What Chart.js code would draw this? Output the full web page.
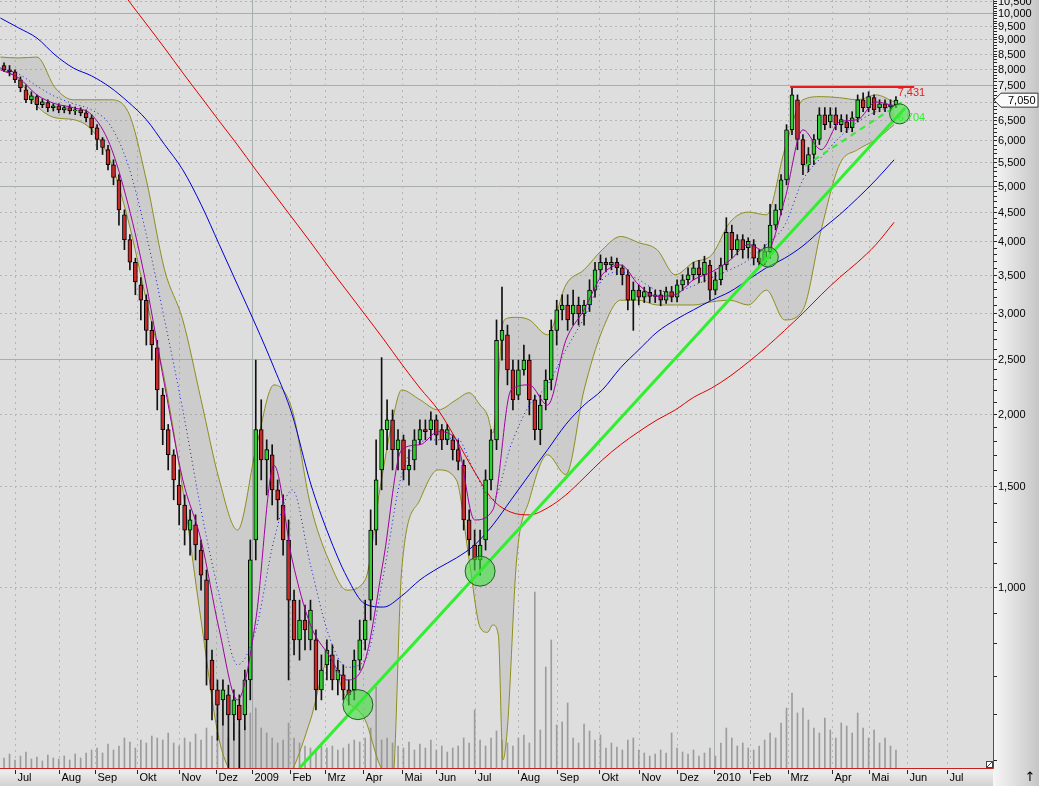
<!DOCTYPE html>
<html lang="de">
<head>
<meta charset="utf-8">
<title>Kursverlauf Jul 2008 - Mai 2010</title>
<script src="https://cdn.jsdelivr.net/npm/chart.js@4.4.1/dist/chart.umd.min.js"></script>
<style>
  html, body { margin: 0; padding: 0; background: #fff; }
  #wrap { width: 1039px; height: 786px; position: relative; }
</style>
</head>
<body>
<div id="wrap"><canvas id="priceChart"></canvas></div>
<script>
// Kerzen: jede 3. Handelssitzung, x = Handelstage ab 1. Juli 2008
const firstCandleDay = -6;
const candleStep = 3;
const opens = [
  8100,7960,7900,7650,7350,7060,7150,6920,6980,6840,6890,6780,6840,6750,6780,6700,6570,
  6310,6020,5780,5440,5120,4450,4030,3680,3360,3160,2800,
  2610,2160,1880,1700,1505,1390,1257,1283,1160,1029,746,662,636,649,599,623,599,
  689,1208,1880,1665,1700,1477,1390,1208,949,
  809,876,809,809,662,732,762,689,703,662,662,746,809,
  949,1257,1600,1880,1955,1735,1805,1600,1665,1805,1880,1880,1955,1880,1805,1805,1735,
  1630,1309,1184,1115,1208,1537,1805,2690,2750,2390,2160,2390,2485,2120,1880,2120,2295,2800,
  3040,3100,2990,3100,2990,3100,3290,3570,3680,3640,3680,3600,3500,3160,
  3290,3200,3260,3210,3230,3160,3270,3200,3360,3430,3500,3600,3500,3640,3290,3430,
  3640,4150,3870,4030,3900,3950,3740,3680,3840,4270,4540,5120,
  6260,7060,6020,5440,5670,6020,6650,6460,6650,6390,6460,6310,6570,7060,6840,7120,6840,6950,6860,6920
];
const highs = [
  8190,8100,7960,7740,7500,7290,7200,7090,7060,6950,6950,6890,6920,6860,6840,6780,6650,
  6390,6070,5880,5550,5230,4540,4110,3740,3460,3230,2900,
  2690,2220,1920,1735,1600,1447,1363,1336,1208,1071,777,689,689,675,662,649,717,
  1208,2485,2120,1805,1770,1537,1447,1309,988,
  949,930,949,842,762,809,793,746,732,689,777,876,949,
  1363,1805,2510,2120,2035,1880,1840,1735,1880,1955,1955,2020,1995,1920,1920,1840,1805,
  1665,1363,1257,1257,1600,1880,2920,3330,2860,2485,2485,2640,2540,2160,2160,2390,2920,3160,
  3230,3230,3290,3200,3160,3430,3680,3790,3740,3760,3740,3640,3570,3400,
  3360,3330,3330,3290,3290,3330,3340,3430,3500,3600,3680,3710,3770,3710,3540,3740,
  4400,4270,4110,4110,4060,4030,3870,3950,4640,4640,5230,6390,
  7410,7200,6140,5830,6140,6840,6840,6840,6840,6650,6650,6730,7200,7260,7290,7200,7060,7060,7060,7150
];
const lows = [
  7900,7770,7560,7290,6980,6950,6780,6840,6730,6750,6700,6700,6670,6650,6620,6460,6140,
  5780,5670,5330,5020,4270,3870,3570,3230,2920,2640,2485,
  2035,1770,1600,1419,1283,1184,1137,1115,988,675,587,541,575,470,541,470,564,
  636,1115,1537,1447,1390,1309,1137,689,762,
  746,777,777,611,636,689,662,649,636,623,636,717,777,
  876,1184,1477,1735,1600,1600,1537,1505,1600,1770,1805,1805,1770,1735,1770,1665,1600,
  1257,1137,1071,1049,1160,1477,1735,2485,2250,2035,2120,2340,1995,1805,1770,2035,2205,2640,
  2920,2800,2860,2860,2860,3020,3200,3430,3540,3570,3500,3360,3040,2800,
  3100,3130,3130,3130,3090,3120,3140,3140,3290,3360,3430,3390,3400,3160,3230,3360,
  3570,3740,3790,3740,3740,3640,3600,3640,3740,4190,4450,5020,
  6140,5780,5230,5290,5440,5900,6260,6310,6260,6210,6190,6210,6460,6730,6730,6650,6730,6730,6780,6840
];
const closes = [
  7960,7900,7650,7410,7060,7170,6920,7000,6840,6890,6780,6840,6750,6780,6700,6570,6310,
  6020,5830,5440,5170,4540,4030,3680,3400,3160,2800,2640,
  2205,1880,1700,1537,1390,1257,1309,1184,1049,809,662,623,662,599,636,587,689,
  1115,1880,1665,1735,1477,1419,1208,949,809,
  876,842,912,662,717,777,689,717,662,649,746,809,876,
  1257,1537,1880,1955,1735,1805,1600,1630,1805,1880,1865,1955,1840,1805,1880,1735,1655,
  1309,1208,1115,1184,1537,1805,2690,2800,2390,2120,2390,2485,2120,1880,2075,2295,2800,3040,
  3100,2920,3100,2990,3100,3290,3570,3680,3640,3680,3600,3500,3160,3290,
  3200,3270,3210,3230,3160,3270,3200,3360,3430,3500,3600,3500,3680,3290,3430,3640,
  4150,3870,4030,3870,4000,3740,3680,3840,4270,4540,5120,6260,
  7200,6020,5440,5670,6020,6650,6390,6650,6390,6520,6310,6570,7060,6840,7150,6780,6950,6840,6920,7050
];
// Umsatz in Tsd. Stueck
const volume = [
  50,70,40,60,80,45,55,35,65,50,45,60,40,70,50,75,90,
  100,75,120,90,110,150,130,100,140,125,160,
  150,140,175,125,110,150,130,170,140,200,160,175,440,150,225,190,210,
  275,300,200,175,150,125,140,225,150,
  125,110,100,90,125,100,110,90,100,120,140,130,150,
  200,405,140,150,125,110,100,130,90,120,100,140,90,110,80,100,110,
  150,125,290,140,110,150,185,140,125,110,150,165,125,880,190,505,640,215,
  230,325,150,125,220,185,140,165,100,125,105,90,140,150,
  90,75,60,70,90,75,175,100,80,70,90,60,75,100,60,125,
  200,150,110,125,100,90,110,140,175,150,225,300,
  375,275,300,240,200,175,250,190,150,225,210,175,275,200,150,190,125,150,110,90
];

const firstLineDay = -8;
const lineStep = 10;
const sma200 = [
  null,null,null,null,null,null,11650,10535,9570,8690,7865,7140,6480,5890,5330,4840,4395,3990,3610,3280,
  2980,2705,2446,2222,2035,1805,1587,1419,1350,1336,1374,1447,1550,1665,1770,1865,1955,2035,2140,2222,
  2330,2465,2620,2800,3000,3230,3460,3680,3950,4320
];
const sma100 = [
  9800,9420,9045,8450,8020,7770,7430,7000,6520,5900,5330,4640,3950,3360,2860,2410,1995,1518,1232,1041,
  934,923,965,1029,1079,1124,1184,1283,1419,1570,1735,1920,2075,2205,2410,2590,2780,2920,3040,3160,
  3270,3430,3600,3740,3930,4190,4450,4760,5120,5550
];
const sma20 = [
  8020,7830,7460,7150,6950,6780,6390,5440,4110,2920,2035,1363,968,732,842,1208,1477,1093,825,725,
  746,1049,1570,1790,1805,1820,1587,1419,1770,2075,2250,2590,2945,3430,3540,3430,3290,3270,3350,3460,
  3570,3710,3950,4270,5120,5600,6070,6460,6730,6890
];
const sma10 = [
  7960,7710,7200,6950,6840,6650,5900,4640,3360,2250,1537,1208,842,636,876,1630,1115,859,762,689,
  746,1115,1735,1770,1865,1805,1309,1363,2205,2250,2075,2690,3040,3500,3640,3360,3210,3230,3430,3540,
  3710,3950,3840,4730,6260,5780,6460,6520,7000,6890
];

const bandDays = [
  -8,2,12,22,32,42,52,62,72,82,92,102,112,122,132,142,152,162,172,182,
  192,200,207,212,222,232,242,
  249,255,259,262,265,267.5,270,275,282,
  292,302,312,322,332,342,352,362,372,382,392,402,412,422,432,442,452,462,472,482
];
const bbUpper = [
  8380,8350,8380,7410,7060,7060,7060,6730,5120,3570,2920,2120,1537,1257,1735,2250,2035,1390,1115,988,
  1029,1477,1955,2205,2120,2035,2120,
  2180,2075,1995,1855,2295,2880,2940,2950,2920,
  2750,3360,3570,3870,4080,3980,3870,3500,3680,3790,4320,4500,4450,5780,7060,7150,7120,7060,7200,7000
];
const bbLower = [
  8020,7650,6890,6570,6520,6260,5550,4360,3160,2295,1477,876,541,459,440,440,480,587,746,636,
  587,490,460,1071,1419,1600,1537,
  1115,851,834,859,825,500,570,1115,1419,
  1700,1570,2205,2800,3160,3160,3100,3100,3100,3140,3160,3100,3290,2920,3040,4190,5440,5780,6020,6390
];

// Achsen
const xMin = -8.22, xMax = 536.2;
const priceMin = 484, priceMax = 10535;
const monthStarts = [0,24,44,67,90,110,130,151,170,191,212,231,252,276,297,320,342,363,383,403,424,448,468,489,511];
const monthLabels = ['Jul','Aug','Sep','Okt','Nov','Dez','2009','Feb','Mrz','Apr','Mai','Jun',
                     'Jul','Aug','Sep','Okt','Nov','Dez','2010','Feb','Mrz','Apr','Mai','Jun','Jul'];
const priceTicks = [10500,10000,9500,9000,8500,8000,7500,7000,6500,6000,5500,5000,4500,4000,3500,3000,2500,2000,1500,1000];
const solidLevels = [10000,7500,5000,2500];
const lastPrice = 7050;

// Zeichenwerkzeuge
const resistanceDays = [425, 493];
const resistanceLevel = 7431;
const trendDays = [156, 488];
const trendValues = [484, 6832];
const channelDays = [433, 488];
const channelValues = [5413, 7053];
const touchDays = [188, 255, 413, 485];
const touchValues = [624, 1066, 3756, 6672];
const trendLabelValue = 6704;

const candleDays = opens.map((_, i) => firstCandleDay + i * candleStep);
const lineDays = sma100.map((_, i) => firstLineDay + i * lineStep);
const pts = arr => arr.map((v, i) => ({ x: lineDays[i], y: v }));
const bandPts = arr => arr.map((v, i) => ({ x: bandDays[i], y: v }));
const fmt = v => v.toLocaleString('en-US');
const FONT = '11px "Liberation Sans", Arial, sans-serif';

const frame = {
  id: 'frame',
  beforeDraw(chart) {
    const { ctx, chartArea: a, width, height } = chart;
    ctx.save();
    ctx.fillStyle = '#dedede';
    ctx.fillRect(a.left, a.top, a.right - a.left, a.bottom - a.top);
    let g = ctx.createLinearGradient(a.right, 0, width, 0);
    g.addColorStop(0, '#f6f6f6');
    g.addColorStop(1, '#c6c6c6');
    ctx.fillStyle = g;
    ctx.fillRect(a.right, 0, width - a.right, height);
    g = ctx.createLinearGradient(0, a.bottom, 0, height);
    g.addColorStop(0, '#f2f2f2');
    g.addColorStop(1, '#d2d2d2');
    ctx.fillStyle = g;
    ctx.fillRect(0, a.bottom, a.right, height - a.bottom);
    ctx.restore();
  },
  beforeDatasetsDraw(chart) {
    const { ctx, chartArea: a, scales } = chart;
    const xs = scales.x, ys = scales.y;
    ctx.save();
    ctx.beginPath();
    ctx.rect(a.left, a.top, a.right - a.left, a.bottom - a.top);
    ctx.clip();
    ctx.lineWidth = 1;
    priceTicks.forEach(v => {
      const y = Math.round(ys.getPixelForValue(v)) + 0.5;
      const solid = solidLevels.includes(v);
      ctx.setLineDash(solid ? [] : [2, 3]);
      ctx.strokeStyle = solid ? '#a9afaf' : '#b4b4b4';
      ctx.beginPath(); ctx.moveTo(a.left, y); ctx.lineTo(a.right, y); ctx.stroke();
    });
    monthStarts.forEach((d, i) => {
      const x = Math.round(xs.getPixelForValue(d)) + 0.5;
      const solid = /^\d{4}$/.test(monthLabels[i]);
      ctx.setLineDash(solid ? [] : [2, 4]);
      ctx.strokeStyle = solid ? '#a9afaf' : '#b4b4b4';
      ctx.beginPath(); ctx.moveTo(x, a.top); ctx.lineTo(x, a.bottom); ctx.stroke();
    });
    ctx.restore();
  },
  afterDatasetsDraw(chart) {
    const { ctx, scales } = chart;
    const xs = scales.x, ys = scales.y;
    const xr = xs.getPixelForValue(resistanceDays[1]) + 11;
    ctx.save();
    ctx.font = FONT;
    ctx.textAlign = 'right';
    ctx.textBaseline = 'middle';
    ctx.fillStyle = '#e81c1c';
    ctx.fillText(fmt(resistanceLevel), xr, ys.getPixelForValue(resistanceLevel) + 6);
    ctx.fillStyle = '#2ef02e';
    ctx.fillText(fmt(trendLabelValue), xr, ys.getPixelForValue(trendLabelValue) + 5);
    ctx.restore();
  },
  afterDraw(chart) {
    const { ctx, chartArea: a, scales, width, height } = chart;
    const xs = scales.x, ys = scales.y;
    ctx.save();
    // Rahmen
    ctx.strokeStyle = '#c42020';
    ctx.lineWidth = 1;
    ctx.beginPath();
    ctx.moveTo(a.right + 0.5, 0); ctx.lineTo(a.right + 0.5, a.bottom + 0.5);
    ctx.lineTo(0, a.bottom + 0.5);
    ctx.stroke();
    // kleine Striche an der Kursachse
    ctx.strokeStyle = '#222';
    for (let v = 500; v <= 10500; v += 100) {
      const y = Math.round(ys.getPixelForValue(v)) + 0.5;
      ctx.beginPath(); ctx.moveTo(a.right + 1, y); ctx.lineTo(a.right + 4, y); ctx.stroke();
    }
    // Kursbeschriftung
    const yLast = ys.getPixelForValue(lastPrice);
    ctx.font = FONT;
    ctx.fillStyle = '#000';
    ctx.textAlign = 'left';
    ctx.textBaseline = 'middle';
    priceTicks.forEach(v => {
      const y = ys.getPixelForValue(v);
      if (Math.abs(y - yLast) < 11) return;
      ctx.fillText(fmt(v), a.right + 5, y + 1);
    });
    // letzter Kurs
    ctx.beginPath();
    ctx.moveTo(a.right + 1, yLast);
    ctx.lineTo(a.right + 8, yLast - 7);
    ctx.lineTo(width - 1, yLast - 7);
    ctx.lineTo(width - 1, yLast + 7);
    ctx.lineTo(a.right + 8, yLast + 7);
    ctx.closePath();
    ctx.fillStyle = '#fbfbfb';
    ctx.fill();
    ctx.strokeStyle = '#333';
    ctx.stroke();
    ctx.fillStyle = '#000';
    ctx.fillText(fmt(lastPrice), a.right + 15, yLast + 1);
    // Zeitachse
    ctx.strokeStyle = '#222';
    monthStarts.forEach((d, i) => {
      const x = Math.round(xs.getPixelForValue(d)) + 0.5;
      ctx.beginPath(); ctx.moveTo(x, a.bottom + 2); ctx.lineTo(x, a.bottom + 6); ctx.stroke();
      ctx.fillText(monthLabels[i], x + 2, a.bottom + 10);
    });
    // Ecke unten rechts
    ctx.fillStyle = '#fff';
    ctx.fillRect(a.right - 7, a.bottom - 7, 7, 7);
    ctx.strokeStyle = '#444';
    ctx.strokeRect(a.right - 6.5, a.bottom - 6.5, 6, 6);
    ctx.beginPath(); ctx.moveTo(a.right - 6, a.bottom - 1); ctx.lineTo(a.right - 1, a.bottom - 6); ctx.stroke();
    ctx.fillStyle = '#000';
    ctx.font = '13px "DejaVu Sans", sans-serif';
    ctx.textAlign = 'center';
    ctx.fillText('\u2191', width - 9, height - 8);
    ctx.restore();
  }
};

const candleFill = opens.map((o, i) => closes[i] >= o ? '#30cf30' : '#c92a2a');

new Chart(document.getElementById('priceChart'), {
  type: 'bar',
  data: {
    datasets: [
      {
        label: 'Umsatz', yAxisID: 'yv', order: 20, grouped: false,
        data: candleDays.map((d, i) => ({ x: d, y: volume[i] })),
        backgroundColor: '#9c9c9c', barThickness: 1
      },
      {
        type: 'line', label: 'BB oben', order: 15,
        data: bandPts(bbUpper), borderColor: '#8e8e1e', borderWidth: 1, pointRadius: 0,
        cubicInterpolationMode: 'monotone', fill: '+1', backgroundColor: 'rgba(140,140,140,0.22)'
      },
      {
        type: 'line', label: 'BB unten', order: 14,
        data: bandPts(bbLower), borderColor: '#8e8e1e', borderWidth: 1, pointRadius: 0,
        cubicInterpolationMode: 'monotone', fill: false
      },
      {
        type: 'line', label: 'GD 200', order: 12,
        data: pts(sma200), borderColor: '#e00000', borderWidth: 1, pointRadius: 0,
        cubicInterpolationMode: 'monotone', fill: false
      },
      {
        type: 'line', label: 'GD 100', order: 11,
        data: pts(sma100), borderColor: '#0000d2', borderWidth: 1, pointRadius: 0,
        cubicInterpolationMode: 'monotone', fill: false
      },
      {
        label: 'Docht', order: 8, grouped: false,
        data: candleDays.map((d, i) => ({ x: d, y: [lows[i], highs[i]] })),
        backgroundColor: '#111', barThickness: 1
      },
      {
        label: 'Kerzen', order: 7, grouped: false,
        data: candleDays.map((d, i) => ({ x: d, y: [opens[i], closes[i]] })),
        backgroundColor: candleFill, borderColor: '#000', borderWidth: 1,
        borderSkipped: false, barThickness: 4
      },
      {
        type: 'line', label: 'GD 20', order: 6,
        data: pts(sma20), borderColor: '#1a1ad6', borderWidth: 1, borderDash: [1, 3],
        pointRadius: 0, cubicInterpolationMode: 'monotone', fill: false
      },
      {
        type: 'line', label: 'GD 10', order: 5,
        data: pts(sma10), borderColor: '#a000a0', borderWidth: 1, pointRadius: 0,
        cubicInterpolationMode: 'monotone', fill: false
      },
      {
        type: 'line', label: 'Widerstand', order: 4,
        data: resistanceDays.map(d => ({ x: d, y: resistanceLevel })),
        borderColor: '#e81c1c', borderWidth: 2, pointRadius: 0, fill: false
      },
      {
        type: 'line', label: 'Kanal', order: 3,
        data: channelDays.map((d, i) => ({ x: d, y: channelValues[i] })),
        borderColor: '#2ef02e', borderWidth: 2, borderDash: [6, 5], pointRadius: 0, fill: false
      },
      {
        type: 'line', label: 'Trend', order: 2,
        data: trendDays.map((d, i) => ({ x: d, y: trendValues[i] })),
        borderColor: '#2ef02e', borderWidth: 3, pointRadius: 0, fill: false
      },
      {
        type: 'scatter', label: 'Beruehrung', order: 1,
        data: touchDays.map((d, i) => ({ x: d, y: touchValues[i] })),
        pointRadius: [15, 15, 10, 10], backgroundColor: 'rgba(60,225,60,0.6)',
        borderColor: '#1f5f1f', borderWidth: 1
      }
    ]
  },
  options: {
    responsive: true,
    maintainAspectRatio: false,
    animation: false,
    events: [],
    layout: { autoPadding: false, padding: { left: 0, top: 0, right: 46, bottom: 18 } },
    plugins: { legend: { display: false }, tooltip: { enabled: false } },
    scales: {
      x: { type: 'linear', min: xMin, max: xMax, offset: false, display: false },
      y: { type: 'logarithmic', min: priceMin, max: priceMax, display: false },
      yv: { type: 'linear', min: 0, max: 3840, display: false }
    }
  },
  plugins: [frame]
});
</script>
</body>
</html>
